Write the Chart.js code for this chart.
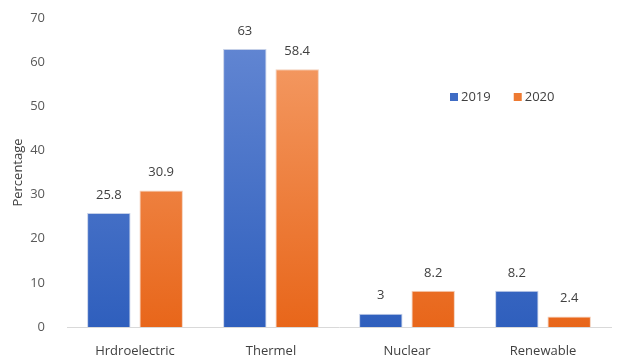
<!DOCTYPE html>
<html>
<head>
<meta charset="utf-8">
<script src="https://cdn.jsdelivr.net/npm/chart.js@4"></script>
<style>
  html, body { margin: 0; padding: 0; background: #fff; }
  #wrap { width: 617px; height: 357px; }
</style>
</head>
<body>
<div id="wrap"><canvas id="myChart" width="617" height="357"></canvas></div>
<script>
const categories = ['Hrdroelectric', 'Thermel', 'Nuclear', 'Renewable'];
const values2019 = [25.8, 63, 3, 8.2];
const values2020 = [30.9, 58.4, 8.2, 2.4];
const seriesNames = ['2019', '2020'];
const yTicks = [0, 10, 20, 30, 40, 50, 60, 70];

const FONT = "'Open Sans', 'Liberation Sans', sans-serif";

// vertical gradient over the chart area, lighter at the top
function barGradient(ctx, top, bottom) {
    const chart = ctx.chart;
    const area = chart.chartArea;
    if (!area) return bottom;
    const g = chart.ctx.createLinearGradient(0, area.top, 0, area.bottom);
    g.addColorStop(0, top);
    g.addColorStop(1, bottom);
    return g;
}

// value labels above each bar
const valueLabels = {
    id: 'valueLabels',
    afterDatasetsDraw(chart) {
        const c = chart.ctx;
        c.save();
        c.font = '13px ' + FONT;
        c.fillStyle = '#404040';
        c.textAlign = 'center';
        c.textBaseline = 'middle';
        chart.data.datasets.forEach((ds, i) => {
            chart.getDatasetMeta(i).data.forEach((bar, j) => {
                c.fillText(String(ds.data[j]), bar.x, bar.y - 18);
            });
        });
        c.restore();
    }
};

// legend drawn inside the plot, right of the Thermel group
const insideLegend = {
    id: 'insideLegend',
    afterDraw(chart) {
        const c = chart.ctx;
        c.save();
        c.font = '13px ' + FONT;
        c.textBaseline = 'middle';
        let x = 450;
        const y = 97;
        const swatch = ['#3f6cc4', '#ee7a32'];
        chart.data.datasets.forEach((ds, i) => {
            c.fillStyle = swatch[i];
            c.fillRect(x, y - 4, 8, 8);
            c.fillStyle = '#404040';
            c.fillText(ds.label, x + 11, y);
            x += 11 + c.measureText(ds.label).width + 23;
        });
        c.restore();
    }
};

new Chart(document.getElementById('myChart').getContext('2d'), {
    type: 'bar',
    data: {
        labels: categories,
        datasets: [
            {
                label: seriesNames[0],
                data: values2019,
                backgroundColor: ctx => barGradient(ctx, '#6689d4', '#2f5fbd'),
                borderColor: 'rgba(90,120,190,0.35)',
                borderWidth: 1,
                categoryPercentage: 0.77,
                barPercentage: 0.83
            },
            {
                label: seriesNames[1],
                data: values2020,
                backgroundColor: ctx => barGradient(ctx, '#f5a06c', '#e8661a'),
                borderColor: 'rgba(220,120,60,0.35)',
                borderWidth: 1,
                categoryPercentage: 0.77,
                barPercentage: 0.83
            }
        ]
    },
    options: {
        responsive: false,
        animation: false,
        layout: { padding: { top: 18, right: 6, left: 4, bottom: 0 } },
        plugins: {
            legend: { display: false },
            tooltip: { enabled: false }
        },
        scales: {
            x: {
                grid: { display: false },
                border: { color: '#d9d9d9', width: 1 },
                ticks: { color: '#404040', font: { family: FONT, size: 13 }, padding: 8 },
                afterFit: s => { s.height = 30; }
            },
            y: {
                min: 0,
                max: 70,
                afterBuildTicks: s => { s.ticks = yTicks.map(v => ({ value: v })); },
                grid: { display: false },
                border: { display: false },
                ticks: { color: '#595959', font: { family: FONT, size: 13 }, padding: 14 },
                title: {
                    display: true,
                    text: 'Percentage',
                    color: '#404040',
                    font: { family: FONT, size: 13 },
                    padding: { top: 6, bottom: 0 }
                },
                afterFit: s => { s.width = 63; s.paddingTop = 0; s.paddingBottom = 0; }
            }
        }
    },
    plugins: [valueLabels, insideLegend]
});
</script>
</body>
</html>
